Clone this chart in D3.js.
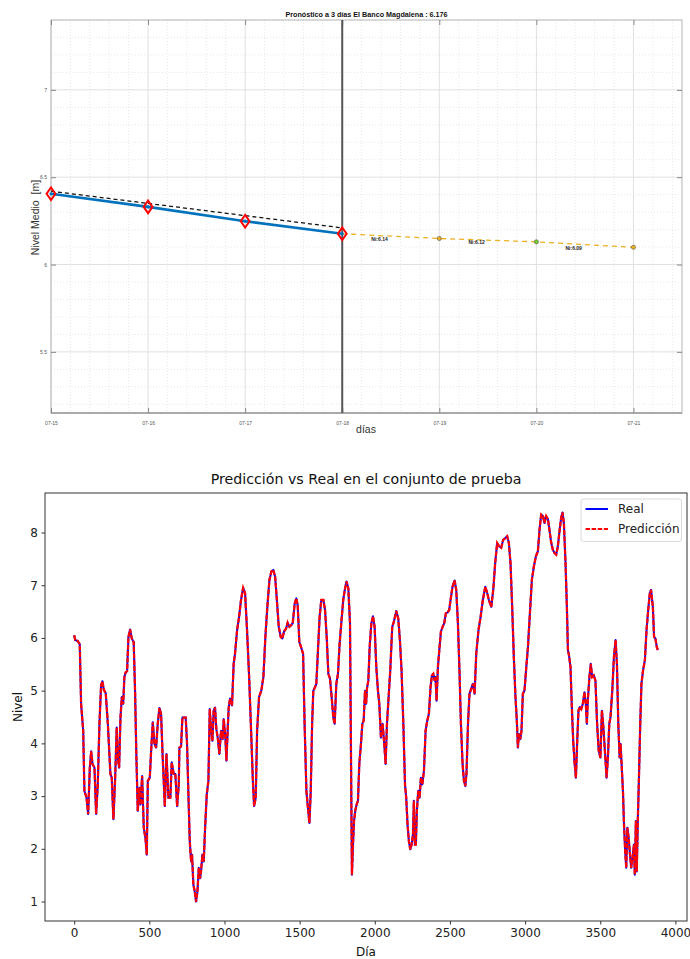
<!DOCTYPE html>
<html>
<head>
<meta charset="utf-8">
<script src="https://cdn.jsdelivr.net/npm/d3@7"></script>
<style>
  html, body { margin: 0; padding: 0; background: #fff; }
  svg { display: block; }
</style>
</head>
<body>
<svg id="chart" width="690" height="959"></svg>
<script>
// ---------------- Top chart data ----------------
const tituloSuperior = "Pronóstico a 3 días El Banco Magdalena : 6.176";
const fechasObs = ["2024-07-15", "2024-07-16", "2024-07-17", "2024-07-18"];
const nivelObservado = [6.405, 6.330, 6.248, 6.176];
const nivelTendencia = [6.42, 6.35, 6.28, 6.21];
const fechasPron = ["2024-07-18", "2024-07-19", "2024-07-20", "2024-07-21"];
const nivelPronostico = [6.176, 6.149, 6.130, 6.099];
const etiquetasPron = ["Ni:6.14", "Ni:6.12", "Ni:6.09"];
const coloresPron = ["#EDB120", "#77D02A", "#EDB120"];
const ticksY1 = [5.5, 6, 6.5, 7];
const ticksY1Labels = ["5.5", "6", "6.5", "7"];

// ---------------- Bottom chart data ----------------
const tituloInferior = "Predicción vs Real en el conjunto de prueba";
const dias = [
  0,7,24,37,46,60,68,82,93,104,
  113,122,135,146,157,168,179,188,197,210,
  224,241,250,261,272,283,290,299,308,317,
  326,334,343,352,361,372,383,396,405,414,
  423,434,441,452,463,474,483,490,503,512,
  523,534,545,556,567,578,589,603,614,627,
  640,649,662,673,685,696,700,711,720,733,
  742,751,760,769,778,784,793,802,811,820,
  829,838,844,853,862,871,882,893,902,911,
  920,928,937,946,955,966,977,988,995,1006,
  1013,1021,1028,1037,1050,1061,1070,1084,1097,1110,
  1124,1137,1150,1164,1177,1188,1197,1208,1217,1230,
  1245,1259,1272,1285,1299,1312,1325,1337,1347,1361,
  1374,1385,1396,1410,1420,1432,1443,1454,1467,1478,
  1487,1498,1509,1523,1533,1545,1553,1565,1574,1583,
  1591,1603,1611,1623,1633,1644,1658,1669,1680,1691,
  1702,1713,1724,1733,1744,1755,1766,1777,1790,1802,
  1812,1824,1835,1844,1848,1855,1862,1870,1879,1888,
  1897,1908,1917,1926,1935,1942,1948,1957,1966,1977,
  1988,1999,2010,2021,2030,2041,2052,2063,2072,2081,
  2092,2103,2116,2127,2143,2156,2167,2178,2190,2201,
  2209,2218,2227,2236,2245,2254,2260,2267,2273,2280,
  2289,2298,2307,2316,2327,2338,2349,2360,2371,2380,
  2389,2398,2404,2411,2420,2431,2440,2451,2462,2473,
  2484,2495,2507,2517,2531,2542,2553,2564,2573,2584,
  2593,2602,2610,2620,2630,2642,2653,2664,2675,2690,
  2704,2719,2735,2748,2759,2775,2788,2801,2814,2827,
  2841,2854,2867,2881,2892,2903,2914,2925,2936,2945,
  2952,2959,2968,2976,2985,2996,3008,3019,3032,3045,
  3058,3072,3085,3096,3107,3119,3129,3140,3152,3162,
  3174,3185,3196,3207,3218,3230,3240,3249,3258,3269,
  3278,3285,3292,3302,3311,3320,3328,3338,3346,3355,
  3364,3373,3384,3395,3404,3411,3417,3428,3437,3446,
  3457,3468,3479,3490,3501,3511,3519,3531,3542,3551,
  3560,3568,3580,3591,3602,3611,3620,3629,3635,3642,
  3651,3658,3666,3673,3680,3689,3698,3706,3715,3724,
  3730,3737,3743,3750,3757,3766,3774,3785,3797,3808,
  3819,3830,3838,3850,3858,3867,3876,3883
];
const nivelReal = [
  6.05,5.96,5.94,5.88,4.75,4.24,3.10,2.97,2.66,3.54,
  3.85,3.61,3.54,2.66,3.22,4.37,5.10,5.18,5.02,4.95,
  4.37,3.42,3.35,2.56,3.29,4.30,3.73,3.54,4.49,4.88,
  4.75,5.26,5.35,5.37,6.02,6.16,5.99,5.92,5.00,3.73,
  2.72,3.16,2.84,3.38,2.40,2.21,1.89,3.29,3.35,3.86,
  4.40,3.99,3.92,4.37,4.67,4.56,3.73,2.81,3.80,2.97,
  2.97,3.64,3.42,3.42,2.81,3.22,3.92,3.94,4.49,4.49,
  4.49,3.99,3.03,2.14,1.76,1.89,1.32,1.19,1.00,1.19,
  1.64,1.44,1.57,1.89,1.76,2.40,3.03,3.29,4.65,4.24,
  4.05,4.62,4.68,4.27,4.11,3.80,4.24,4.08,4.46,4.11,
  3.67,4.24,4.68,4.85,4.72,5.51,5.70,6.15,6.40,6.72,
  6.95,6.85,6.15,5.26,4.24,3.35,2.81,2.97,4.24,4.88,
  5.00,5.26,6.02,6.59,7.10,7.26,7.29,7.16,6.78,6.21,
  6.02,5.99,6.12,6.18,6.29,6.21,6.24,6.28,6.65,6.75,
  6.62,5.92,5.83,5.70,4.37,3.10,2.84,2.49,3.10,4.37,
  5.00,5.07,5.13,5.83,6.40,6.72,6.72,6.53,6.02,5.32,
  5.23,4.88,4.49,4.37,5.13,5.32,5.89,6.28,6.72,6.94,
  7.07,6.94,6.28,2.91,1.51,2.08,2.53,2.72,2.84,2.91,
  3.61,3.99,4.37,4.43,5.00,4.75,5.04,5.19,5.83,6.28,
  6.41,6.21,5.45,5.00,4.75,4.11,4.37,3.99,3.61,4.37,
  4.88,5.39,6.21,6.31,6.51,6.37,5.96,5.39,4.37,3.22,
  2.97,2.46,2.14,1.99,2.08,2.27,2.91,2.08,2.08,2.72,
  3.10,2.97,3.35,3.22,3.48,4.24,4.43,4.56,5.07,5.29,
  5.32,5.19,5.26,4.81,5.45,5.83,6.12,6.21,6.28,6.47,
  6.48,6.53,6.78,6.97,7.09,6.91,6.28,5.32,4.37,3.61,
  3.29,3.19,3.42,4.37,4.94,5.04,5.13,4.94,5.70,6.15,
  6.40,6.72,6.97,6.85,6.72,6.59,6.91,7.42,7.80,7.74,
  7.71,7.86,7.89,7.93,7.80,7.42,6.59,5.64,4.88,4.43,
  3.92,4.18,4.08,4.24,4.94,5.00,5.45,5.83,6.47,7.10,
  7.35,7.55,7.64,8.05,8.34,8.31,8.18,8.31,8.25,8.05,
  7.80,7.67,7.61,7.58,7.74,8.05,8.28,8.38,8.18,7.42,
  6.59,5.77,5.67,5.45,4.69,4.05,3.67,3.35,3.99,4.62,
  4.69,4.65,4.75,4.97,4.75,4.37,4.81,5.26,5.51,5.26,
  5.29,5.19,4.37,3.86,3.73,4.62,4.37,3.86,3.35,3.73,
  4.37,4.49,5.00,5.64,5.96,5.51,4.37,3.73,3.99,3.61,
  3.10,2.46,1.95,1.64,2.40,2.21,1.89,1.64,1.83,2.08,
  1.51,2.53,1.57,2.56,3.29,4.37,5.13,5.39,5.58,6.15,
  6.53,6.85,6.91,6.59,6.02,5.99,5.83,5.77
];
const nivelPrediccion = [
  6.05,5.96,5.94,5.88,4.75,4.24,3.10,2.97,2.66,3.54,
  3.85,3.61,3.54,2.66,3.22,4.37,5.10,5.18,5.02,4.95,
  4.37,3.42,3.35,2.56,3.29,4.30,3.73,3.54,4.49,4.88,
  4.75,5.26,5.35,5.37,6.02,6.16,5.99,5.92,5.00,3.73,
  2.72,3.16,2.84,3.38,2.40,2.21,1.89,3.29,3.35,3.86,
  4.40,3.99,3.92,4.37,4.67,4.56,3.73,2.81,3.80,2.97,
  2.97,3.64,3.42,3.42,2.81,3.22,3.92,3.94,4.49,4.49,
  4.49,3.99,3.03,2.14,1.76,1.89,1.32,1.19,1.00,1.19,
  1.64,1.44,1.57,1.89,1.76,2.40,3.03,3.29,4.65,4.24,
  4.05,4.62,4.68,4.27,4.11,3.80,4.24,4.08,4.46,4.11,
  3.67,4.24,4.68,4.85,4.72,5.51,5.70,6.15,6.40,6.72,
  6.95,6.85,6.15,5.26,4.24,3.35,2.81,2.97,4.24,4.88,
  5.00,5.26,6.02,6.59,7.10,7.26,7.29,7.16,6.78,6.21,
  6.02,5.99,6.12,6.18,6.29,6.21,6.24,6.28,6.65,6.75,
  6.62,5.92,5.83,5.70,4.37,3.10,2.84,2.49,3.10,4.37,
  5.00,5.07,5.13,5.83,6.40,6.72,6.72,6.53,6.02,5.32,
  5.23,4.88,4.49,4.37,5.13,5.32,5.89,6.28,6.72,6.94,
  7.07,6.94,6.28,2.91,1.51,2.08,2.53,2.72,2.84,2.91,
  3.61,3.99,4.37,4.43,5.00,4.75,5.04,5.19,5.83,6.28,
  6.41,6.21,5.45,5.00,4.75,4.11,4.37,3.99,3.61,4.37,
  4.88,5.39,6.21,6.31,6.51,6.37,5.96,5.39,4.37,3.22,
  2.97,2.46,2.14,1.99,2.08,2.27,2.91,2.08,2.08,2.72,
  3.10,2.97,3.35,3.22,3.48,4.24,4.43,4.56,5.07,5.29,
  5.32,5.19,5.26,4.81,5.45,5.83,6.12,6.21,6.28,6.47,
  6.48,6.53,6.78,6.97,7.09,6.91,6.28,5.32,4.37,3.61,
  3.29,3.19,3.42,4.37,4.94,5.04,5.13,4.94,5.70,6.15,
  6.40,6.72,6.97,6.85,6.72,6.59,6.91,7.42,7.80,7.74,
  7.71,7.86,7.89,7.93,7.80,7.42,6.59,5.64,4.88,4.43,
  3.92,4.18,4.08,4.24,4.94,5.00,5.45,5.83,6.47,7.10,
  7.35,7.55,7.64,8.05,8.34,8.31,8.18,8.31,8.25,8.05,
  7.80,7.67,7.61,7.58,7.74,8.05,8.28,8.38,8.18,7.42,
  6.59,5.77,5.67,5.45,4.69,4.05,3.67,3.35,3.99,4.62,
  4.69,4.65,4.75,4.97,4.75,4.37,4.81,5.26,5.51,5.26,
  5.29,5.19,4.37,3.86,3.73,4.62,4.37,3.86,3.35,3.73,
  4.37,4.49,5.00,5.64,5.96,5.51,4.37,3.73,3.99,3.61,
  3.10,2.46,1.95,1.64,2.40,2.21,1.89,1.64,1.83,2.08,
  1.51,2.53,1.57,2.56,3.29,4.37,5.13,5.39,5.58,6.15,
  6.53,6.85,6.91,6.59,6.02,5.99,5.83,5.77
];
const ticksX2 = [0, 500, 1000, 1500, 2000, 2500, 3000, 3500, 4000];
const ticksY2 = [1, 2, 3, 4, 5, 6, 7, 8];
const leyenda = ["Real", "Predicción"];

// =================================================
const svg = d3.select("#chart");
const parse = d3.timeParse("%Y-%m-%d");

// ---------------- TOP CHART ----------------
(function () {
  const L = 51, R = 682, T = 20, B = 413;
  const g = svg.append("g").attr("font-family", "'Liberation Sans', Arial, sans-serif");
  const x = d3.scaleTime()
    .domain([parse("2024-07-15"), new Date(2024, 6, 21, 12)])
    .range([L, R]);
  const y = d3.scaleLinear().domain([5.15, 7.4]).range([B, T]);

  const dayMs = 86400000;
  const t0 = parse("2024-07-15").getTime();
  // minor vertical grid every 0.2 day
  const minorX = d3.range(0, 32.5).map(i => new Date(t0 + i * 0.2 * dayMs)).filter((d, i) => i % 5 !== 0);
  g.append("g").selectAll("line").data(minorX).join("line")
    .attr("x1", d => x(d)).attr("x2", d => x(d)).attr("y1", T).attr("y2", B)
    .attr("stroke", "#dcdcdc").attr("stroke-width", 0.7).attr("stroke-dasharray", "1,2");
  // minor horizontal grid every 0.1
  const minorY = d3.range(52, 75).map(i => i / 10).filter(v => Math.abs(v * 2 - Math.round(v * 2)) > 1e-6);
  g.append("g").selectAll("line").data(minorY).join("line")
    .attr("x1", L).attr("x2", R).attr("y1", d => y(d)).attr("y2", d => y(d))
    .attr("stroke", "#dcdcdc").attr("stroke-width", 0.7).attr("stroke-dasharray", "1,2");
  // major grid
  const majorX = d3.timeDay.range(parse("2024-07-15"), parse("2024-07-22"));
  g.append("g").selectAll("line").data(majorX).join("line")
    .attr("x1", d => x(d)).attr("x2", d => x(d)).attr("y1", T).attr("y2", B)
    .attr("stroke", "#e0e0e0").attr("stroke-width", 1);
  g.append("g").selectAll("line").data(ticksY1).join("line")
    .attr("x1", L).attr("x2", R).attr("y1", d => y(d)).attr("y2", d => y(d))
    .attr("stroke", "#e0e0e0").attr("stroke-width", 1);

  // box
  g.append("rect").attr("x", L).attr("y", T).attr("width", R - L).attr("height", B - T)
    .attr("fill", "none").attr("stroke", "#b5b5b5").attr("stroke-width", 1);
  g.append("line").attr("x1", L).attr("x2", R).attr("y1", B).attr("y2", B)
    .attr("stroke", "#9a9a9a").attr("stroke-width", 1.5);

  // axes with inside ticks
  const xAxisB = d3.axisBottom(x).tickValues(majorX).tickFormat(d3.timeFormat("%m-%d")).tickSizeInner(-5).tickSizeOuter(0).tickPadding(8);
  const ax = g.append("g").attr("transform", `translate(0,${B})`).call(xAxisB);
  ax.select(".domain").remove();
  ax.selectAll("line").attr("stroke", "#888");
  ax.selectAll("text").attr("font-size", 5).attr("fill", "#555").attr("font-family", "'Liberation Sans', Arial, sans-serif");
  const axT = g.append("g").attr("transform", `translate(0,${T})`).call(d3.axisTop(x).tickValues(majorX).tickFormat("").tickSizeInner(-5).tickSizeOuter(0));
  axT.select(".domain").remove();
  axT.selectAll("line").attr("stroke", "#888");

  const yAxisL = d3.axisLeft(y).tickValues(ticksY1).tickFormat((d, i) => ticksY1Labels[i]).tickSizeInner(-5).tickSizeOuter(0).tickPadding(4);
  const ay = g.append("g").attr("transform", `translate(${L},0)`).call(yAxisL);
  ay.select(".domain").remove();
  ay.selectAll("line").attr("stroke", "#888");
  ay.selectAll("text").attr("font-size", 5).attr("fill", "#555").attr("font-family", "'Liberation Sans', Arial, sans-serif");
  const ayR = g.append("g").attr("transform", `translate(${R},0)`).call(d3.axisRight(y).tickValues(ticksY1).tickFormat("").tickSizeInner(-5).tickSizeOuter(0));
  ayR.select(".domain").remove();
  ayR.selectAll("line").attr("stroke", "#888");

  // dark vertical line at last observation
  const dLast = parse(fechasObs[fechasObs.length - 1]);
  g.append("line").attr("x1", x(dLast)).attr("x2", x(dLast)).attr("y1", T).attr("y2", B)
    .attr("stroke", "#555").attr("stroke-width", 2);

  const obs = fechasObs.map((f, i) => ({ d: parse(f), v: nivelObservado[i], t: nivelTendencia[i] }));
  const pron = fechasPron.map((f, i) => ({ d: parse(f), v: nivelPronostico[i] }));

  // black dashed trend
  g.append("path").datum(obs)
    .attr("d", d3.line().x(d => x(d.d)).y(d => y(d.t)))
    .attr("fill", "none").attr("stroke", "#111").attr("stroke-width", 1.3).attr("stroke-dasharray", "4,3");
  // blue observed line
  g.append("path").datum(obs)
    .attr("d", d3.line().x(d => x(d.d)).y(d => y(d.v)))
    .attr("fill", "none").attr("stroke", "#0072BD").attr("stroke-width", 2.6);
  // yellow forecast dashed
  g.append("path").datum(pron)
    .attr("d", d3.line().x(d => x(d.d)).y(d => y(d.v)))
    .attr("fill", "none").attr("stroke", "#EDB120").attr("stroke-width", 1.3).attr("stroke-dasharray", "5,4");

  // red diamonds
  const diamond = (cx, cy) => `M${cx},${cy - 6.3} L${cx + 4.4},${cy} L${cx},${cy + 6.3} L${cx - 4.4},${cy} Z`;
  g.append("g").selectAll("path").data(obs).join("path")
    .attr("d", d => diamond(x(d.d), y(d.v)))
    .attr("fill", "none").attr("stroke", "#ff0000").attr("stroke-width", 2);
  g.append("g").selectAll("circle").data(obs).join("circle")
    .attr("cx", d => x(d.d)).attr("cy", d => y(d.v)).attr("r", 1.6).attr("fill", "#0072BD");

  // forecast markers
  g.append("g").selectAll("circle").data(pron.slice(1)).join("circle")
    .attr("cx", d => x(d.d)).attr("cy", d => y(d.v)).attr("r", 2.1)
    .attr("fill", (d, i) => coloresPron[i]).attr("stroke", "#555").attr("stroke-width", 0.6);

  // forecast labels
  g.append("g").selectAll("text").data(pron.slice(1)).join("text")
    .attr("x", d => x(new Date(d.d.getTime() - 0.7 * dayMs)))
    .attr("y", d => y(d.v) + 2.5)
    .attr("font-size", 5).attr("font-weight", "bold").attr("fill", "#222")
    .text((d, i) => etiquetasPron[i]);

  // title & labels
  g.append("text").attr("x", (L + R) / 2).attr("y", 17).attr("text-anchor", "middle")
    .attr("font-size", 7.2).attr("font-weight", "bold").attr("fill", "#111").text(tituloSuperior);
  g.append("text").attr("transform", `translate(39,${(T + B) / 2 + 1}) rotate(-90)`)
    .attr("text-anchor", "middle").attr("font-size", 10.5).attr("fill", "#333")
    .style("white-space", "pre").text("Nivel Medio  [m]");
  g.append("text").attr("x", 366).attr("y", 433).attr("text-anchor", "middle")
    .attr("font-size", 10.5).attr("fill", "#333").text("días");
})();

// ---------------- BOTTOM CHART ----------------
(function () {
  const L = 45, R = 687, T = 493, B = 921;
  const g = svg.append("g").attr("font-family", "'DejaVu Sans', sans-serif");
  const xmin = d3.min(dias), xmax = d3.max(dias);
  const padX = (xmax - xmin) * 0.05;
  const ymin = d3.min(nivelReal), ymax = d3.max(nivelReal);
  const padY = (ymax - ymin) * 0.05;
  const x = d3.scaleLinear().domain([xmin - padX, xmax + padX]).range([L, R]);
  const y = d3.scaleLinear().domain([ymin - padY, ymax + padY]).range([B, T]);

  const defs = svg.append("defs");
  defs.append("clipPath").attr("id", "clip2").append("rect")
    .attr("x", L).attr("y", T).attr("width", R - L).attr("height", B - T);

  const line = d3.line().x(d => x(d[0])).y(d => y(d[1]));
  const realPts = dias.map((d, i) => [d, nivelReal[i]]);
  const predPts = dias.map((d, i) => [d, nivelPrediccion[i]]);
  const plot = g.append("g").attr("clip-path", "url(#clip2)");
  plot.append("path").datum(realPts).attr("d", line)
    .attr("fill", "none").attr("stroke", "#0000ff").attr("stroke-width", 2).attr("stroke-linejoin", "round");
  plot.append("path").datum(predPts).attr("d", line)
    .attr("fill", "none").attr("stroke", "#ff0000").attr("stroke-width", 2.3).attr("stroke-dasharray", "5,1.4");

  // axes
  const ax = g.append("g").attr("transform", `translate(0,${B})`)
    .call(d3.axisBottom(x).tickValues(ticksX2).tickFormat(d3.format("d")).tickSizeInner(3.5).tickSizeOuter(0).tickPadding(3.5));
  ax.select(".domain").remove();
  ax.selectAll("line").attr("stroke", "#000").attr("stroke-width", 0.8);
  ax.selectAll("text").attr("font-size", 12).attr("fill", "#222").attr("font-family", "'DejaVu Sans', sans-serif");
  const ay = g.append("g").attr("transform", `translate(${L},0)`)
    .call(d3.axisLeft(y).tickValues(ticksY2).tickFormat(d3.format("d")).tickSizeInner(3.5).tickSizeOuter(0).tickPadding(3.5));
  ay.select(".domain").remove();
  ay.selectAll("line").attr("stroke", "#000").attr("stroke-width", 0.8);
  ay.selectAll("text").attr("font-size", 12).attr("fill", "#222").attr("font-family", "'DejaVu Sans', sans-serif");

  g.append("rect").attr("x", L).attr("y", T).attr("width", R - L).attr("height", B - T)
    .attr("fill", "none").attr("stroke", "#333").attr("stroke-width", 1);

  // title and labels
  g.append("text").attr("x", (L + R) / 2).attr("y", 484).attr("text-anchor", "middle")
    .attr("font-size", 14.2).attr("fill", "#111").text(tituloInferior);
  g.append("text").attr("x", (L + R) / 2).attr("y", 956).attr("text-anchor", "middle")
    .attr("font-size", 12).attr("fill", "#111").text("Día");
  g.append("text").attr("transform", `translate(22,${(T + B) / 2}) rotate(-90)`)
    .attr("text-anchor", "middle").attr("font-size", 12).attr("fill", "#111").text("Nivel");

  // legend
  const lg = g.append("g");
  lg.append("rect").attr("x", 581).attr("y", 499).attr("width", 100.5).attr("height", 42.5)
    .attr("rx", 2.5).attr("fill", "#fff").attr("fill-opacity", 0.8).attr("stroke", "#d0d0d0").attr("stroke-width", 0.8);
  const styles = [{ c: "#0000ff", dash: null }, { c: "#ff0000", dash: "4.5,1.6" }];
  leyenda.forEach((name, i) => {
    const yy = 509 + i * 20;
    lg.append("line").attr("x1", 585.5).attr("x2", 608).attr("y1", yy).attr("y2", yy)
      .attr("stroke", styles[i].c).attr("stroke-width", 2).attr("stroke-dasharray", styles[i].dash);
    lg.append("text").attr("x", 618).attr("y", yy + 4.3).attr("font-size", 12).attr("fill", "#222").text(name);
  });
})();
</script>
</body>
</html>
